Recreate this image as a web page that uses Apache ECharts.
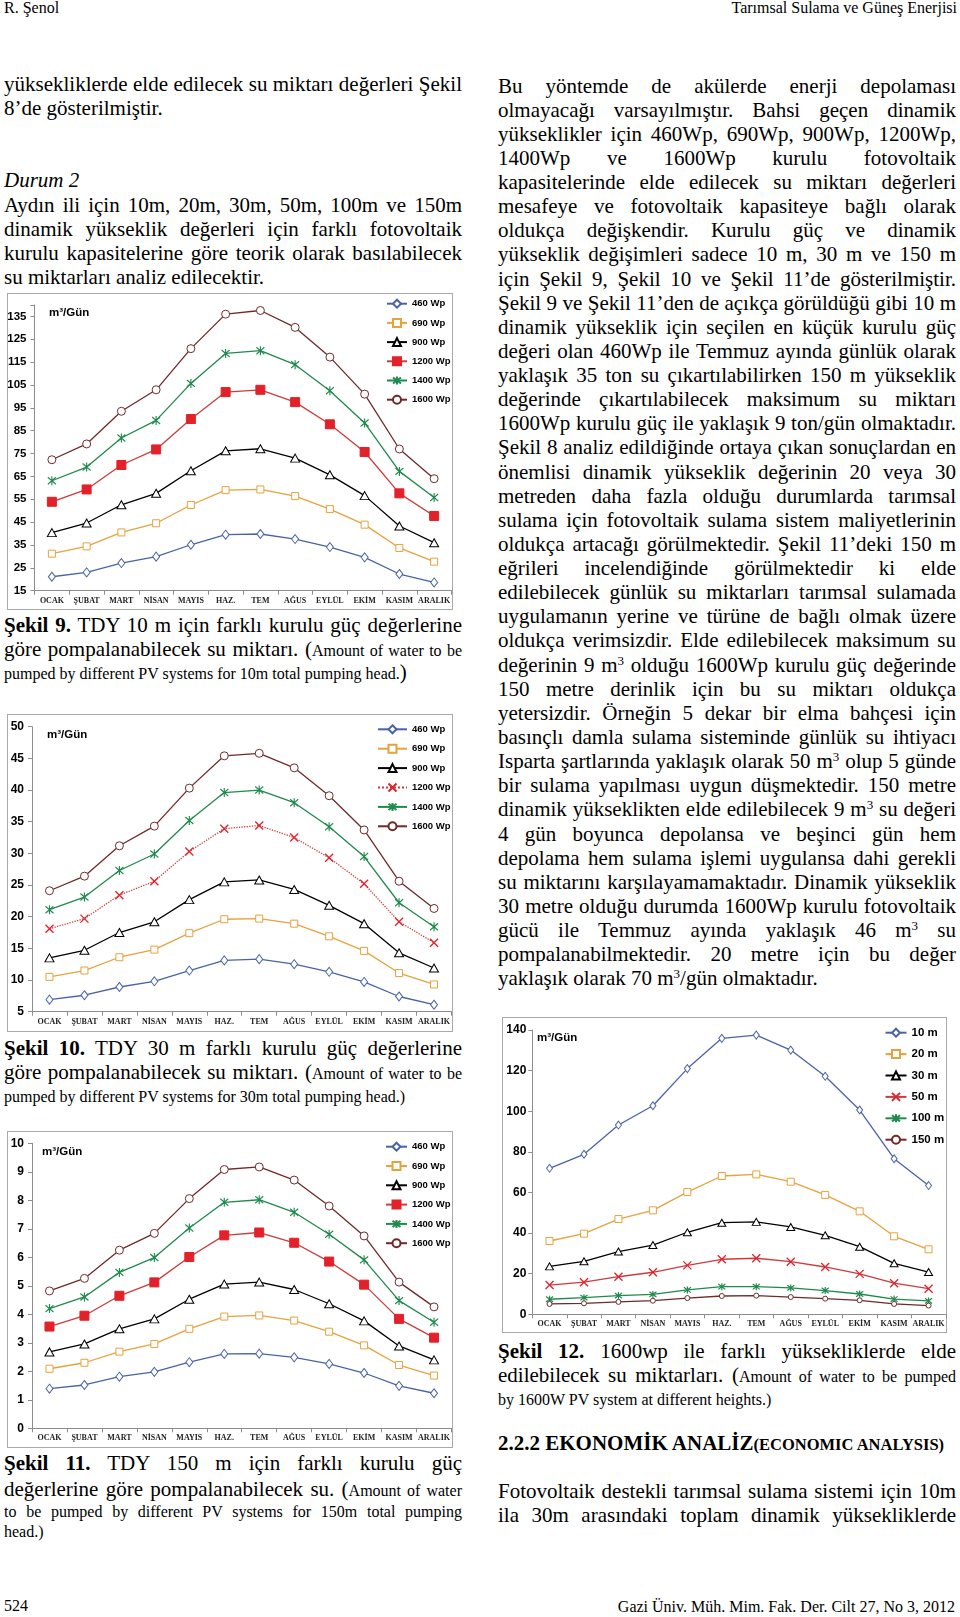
<!DOCTYPE html>
<html><head><meta charset="utf-8">
<script src="https://cdn.jsdelivr.net/npm/echarts@6/dist/echarts.min.js"></script>
<style>
html,body{margin:0;padding:0;background:#fff;}
#page{position:relative;width:960px;height:1617px;overflow:hidden;font-family:"Liberation Serif","Times New Roman",serif;color:#000;}
.t{position:absolute;line-height:24px;height:24px;font-size:21px;}
.j{text-align:justify;text-align-last:justify;}
.s{font-size:16px;}
sup{font-size:13px;line-height:0;vertical-align:7px;}
.box{position:absolute;border:1.5px solid #a9a9a9;box-sizing:border-box;}
.ch{position:absolute;}
</style></head>
<body><div id="page"></div>
<script>
// ---------------- DATA ----------------
const months = ['OCAK','ŞUBAT','MART','NİSAN','MAYIS','HAZ.','TEM','AĞUS','EYLÜL','EKİM','KASIM','ARALIK'];
const pvNames = ['460 Wp','690 Wp','900 Wp','1200 Wp','1400 Wp','1600 Wp'];
const headNames = ['10 m','20 m','30 m','50 m','100 m','150 m'];

// Şekil 9 – 10 m
const h10_460  = [21.1,23.0,27.1,29.9,35.1,39.5,39.8,37.6,34.1,29.6,22.3,18.6];
const h10_690  = [31.2,34.4,40.5,44.5,52.5,59.0,59.3,56.4,50.7,43.9,33.7,27.7];
const h10_900  = [40.4,44.6,52.6,57.6,67.5,76.2,77.1,73.0,65.7,56.6,43.3,36.0];
const h10_1200 = [53.9,59.3,70.0,76.8,90.1,101.9,102.9,97.5,87.8,75.7,57.6,47.7];
const h10_1400 = [63.1,69.1,81.8,89.5,105.7,118.8,120.0,113.9,102.5,88.4,67.2,55.8];
const h10_1600 = [72.3,79.2,93.5,102.9,120.9,136.0,137.6,130.2,117.2,101.0,77.0,64.0];
// Şekil 10 – 30 m
const h30_460  = [6.9,7.6,8.9,9.8,11.5,13.1,13.3,12.5,11.3,9.7,7.4,6.1];
const h30_690  = [10.5,11.5,13.6,14.8,17.4,19.6,19.7,18.9,16.9,14.6,11.1,9.3];
const h30_900  = [13.5,14.7,17.5,19.2,22.7,25.5,25.8,24.3,21.8,18.9,14.3,11.9];
const h30_1200 = [18.1,19.7,23.4,25.6,30.3,33.9,34.4,32.5,29.3,25.2,19.2,15.9];
const h30_1400 = [21.1,23.1,27.3,29.9,35.2,39.6,40.0,38.0,34.2,29.5,22.2,18.4];
const h30_1600 = [24.1,26.4,31.2,34.3,40.3,45.4,45.8,43.5,39.1,33.7,25.6,21.3];
// Şekil 11 – 150 m
const h150_460  = [1.39,1.52,1.81,1.98,2.32,2.61,2.62,2.49,2.26,1.94,1.49,1.23];
const h150_690  = [2.09,2.30,2.69,2.96,3.49,3.92,3.96,3.78,3.39,2.91,2.22,1.85];
const h150_900  = [2.68,2.96,3.49,3.84,4.53,5.06,5.13,4.87,4.37,3.77,2.89,2.40];
const h150_1200 = [3.57,3.95,4.65,5.12,6.01,6.77,6.87,6.51,5.85,5.04,3.84,3.18];
const h150_1400 = [4.20,4.61,5.47,5.99,7.03,7.93,8.02,7.58,6.81,5.91,4.48,3.72];
const h150_1600 = [4.82,5.26,6.25,6.84,8.06,9.08,9.17,8.71,7.80,6.75,5.13,4.26];
// Şekil 12 – 1600 Wp
const p1600_10  = [71.9,78.8,93.2,102.7,121.0,135.9,137.5,130.1,117.2,100.6,76.6,63.4];
const p1600_20  = [36.1,39.7,46.9,51.2,60.2,68.1,68.9,65.3,58.8,50.7,38.4,32.0];
const p1600_30  = [23.6,26.1,30.9,34.1,40.4,45.1,45.5,43.0,38.9,33.3,25.1,20.8];
const p1600_50  = [14.4,15.8,18.5,20.7,24.1,27.1,27.6,25.9,23.3,19.9,15.3,12.6];
const p1600_100 = [7.4,8.2,9.2,9.8,12.0,13.6,13.6,13.0,11.7,10.0,7.5,6.6];
const p1600_150 = [5.1,5.4,6.1,6.7,8.0,9.0,9.2,8.5,7.7,6.9,5.1,4.3];

// ---------------- TEXT ----------------
const page = document.getElementById('page');
function T(x, w, cy, html, just, fs, extra) {
  const d = document.createElement('div');
  d.className = 't' + (just ? ' j' : '');
  d.style.left = x + 'px'; d.style.width = w + 'px'; d.style.top = (cy - 12) + 'px';
  if (fs) d.style.fontSize = fs + 'px';
  if (extra) d.style.cssText += extra;
  d.innerHTML = html; page.appendChild(d);
}
const LX = 4, LW = 458, RX = 498, RW = 458;

T(4, 300, 7.5, 'R. Şenol', 0, 16);
T(560, 397, 7.5, 'Tarımsal Sulama ve Güneş Enerjisi', 0, 16, 'text-align:right;');
T(4, 100, 1606, '524', 0, 16);
T(500, 455, 1607, 'Gazi Üniv. Müh. Mim. Fak. Der. Cilt 27, No 3, 2012', 0, 16, 'text-align:right;');

const LP = 24.1;
T(LX, LW, 84, 'yüksekliklerde elde edilecek su miktarı değerleri Şekil', 1);
T(LX, LW, 84 + LP, '8’de gösterilmiştir.', 0);
T(LX, LW, 84 + 4*LP, '<i>Durum 2</i>', 0);
T(LX, LW, 84 + 5*LP, 'Aydın ili için 10m, 20m, 30m, 50m, 100m ve 150m', 1);
T(LX, LW, 84 + 6*LP, 'dinamik yükseklik değerleri için farklı fotovoltaik', 1);
T(LX, LW, 84 + 7*LP, 'kurulu kapasitelerine göre teorik olarak basılabilecek', 1);
T(LX, LW, 84 + 8*LP, 'su miktarları analiz edilecektir.', 0);

const rightLines = [
'Bu yöntemde de akülerde enerji depolaması',
'olmayacağı varsayılmıştır. Bahsi geçen dinamik',
'yükseklikler için 460Wp, 690Wp, 900Wp, 1200Wp,',
'1400Wp ve 1600Wp kurulu fotovoltaik',
'kapasitelerinde elde edilecek su miktarı değerleri',
'mesafeye ve fotovoltaik kapasiteye bağlı olarak',
'oldukça değişkendir. Kurulu güç ve dinamik',
'yükseklik değişimleri sadece 10 m, 30 m ve 150 m',
'için Şekil 9, Şekil 10 ve Şekil 11’de gösterilmiştir.',
'Şekil 9 ve Şekil 11’den de açıkça görüldüğü gibi 10 m',
'dinamik yükseklik için seçilen en küçük kurulu güç',
'değeri olan 460Wp ile Temmuz ayında günlük olarak',
'yaklaşık 35 ton su çıkartılabilirken 150 m yükseklik',
'değerinde çıkartılabilecek maksimum su miktarı',
'1600Wp kurulu güç ile yaklaşık 9 ton/gün olmaktadır.',
'Şekil 8 analiz edildiğinde ortaya çıkan sonuçlardan en',
'önemlisi dinamik yükseklik değerinin 20 veya 30',
'metreden daha fazla olduğu durumlarda tarımsal',
'sulama için fotovoltaik sulama sistem maliyetlerinin',
'oldukça artacağı görülmektedir. Şekil 11’deki 150 m',
'eğrileri incelendiğinde görülmektedir ki elde',
'edilebilecek günlük su miktarları tarımsal sulamada',
'uygulamanın yerine ve türüne de bağlı olmak üzere',
'oldukça verimsizdir. Elde edilebilecek maksimum su',
'değerinin 9 m<sup>3</sup> olduğu 1600Wp kurulu güç değerinde',
'150 metre derinlik için bu su miktarı oldukça',
'yetersizdir. Örneğin 5 dekar bir elma bahçesi için',
'basınçlı damla sulama sisteminde günlük su ihtiyacı',
'Isparta şartlarında yaklaşık olarak 50 m<sup>3</sup> olup 5 günde',
'bir sulama yapılması uygun düşmektedir. 150 metre',
'dinamik yükseklikten elde edilebilecek 9 m<sup>3</sup> su değeri',
'4 gün boyunca depolansa ve beşinci gün hem',
'depolama hem sulama işlemi uygulansa dahi gerekli',
'su miktarını karşılayamamaktadır. Dinamik yükseklik',
'30 metre olduğu durumda 1600Wp kurulu fotovoltaik',
'gücü ile Temmuz ayında yaklaşık 46 m<sup>3</sup> su',
'pompalanabilmektedir. 20 metre için bu değer',
'yaklaşık olarak 70 m<sup>3</sup>/gün olmaktadır.'
];
rightLines.forEach((h, i) => T(RX, RW, 85.5 + 24.13 * i, h, i < rightLines.length - 1));

// captions
T(LX, LW, 625, '<b>Şekil 9.</b> TDY 10 m için farklı kurulu güç değerlerine', 1);
T(LX, LW, 648.5, 'göre pompalanabilecek su miktarı. (<span class="s">Amount of water to be</span>', 1);
T(LX, LW, 672, '<span class="s">pumped by different PV systems for 10m total pumping head.</span>)', 0);

T(LX, LW, 1048, '<b>Şekil 10.</b> TDY 30 m farklı kurulu güç değerlerine', 1);
T(LX, LW, 1072, 'göre pompalanabilecek su miktarı. (<span class="s">Amount of water to be</span>', 1);
T(LX, LW, 1094.5, '<span class="s">pumped by different PV systems for 30m total pumping head.)</span>', 0);

T(LX, LW, 1463, '<b>Şekil 11.</b> TDY 150 m için farklı kurulu güç', 1);
T(LX, LW, 1488.5, 'değerlerine göre pompalanabilecek su. (<span class="s">Amount of water</span>', 1);
T(LX, LW, 1509.5, '<span class="s">to be pumped by different PV systems for 150m total pumping</span>', 1);
T(LX, LW, 1530, '<span class="s">head.)</span>', 0);

T(RX, RW, 1351, '<b>Şekil 12.</b> 1600wp ile farklı yüksekliklerde elde', 1);
T(RX, RW, 1374.5, 'edilebilecek su miktarları. (<span class="s">Amount of water to be pumped</span>', 1);
T(RX, RW, 1398, '<span class="s">by 1600W PV system at different heights.)</span>', 0);

T(RX, RW, 1442.5, '<b>2.2.2 EKONOMİK ANALİZ<span style="font-size:16.5px">(ECONOMIC ANALYSIS)</span></b>', 0);
T(RX, RW, 1490.5, 'Fotovoltaik destekli tarımsal sulama sistemi için 10m', 1);
T(RX, RW, 1515, 'ila 30m arasındaki toplam dinamik yüksekliklerde', 1);

// ---------------- CHARTS ----------------
const C_BLUE = '#4a63a8', C_ORANGE = '#e7a23e', C_RED = '#e3212a', C_REDLINE = '#cf3b3b',
      C_GREEN = '#1f8a4d', C_BROWN = '#6f2a2a';
const ASTER = 'path://M0,0L10,10M10,0L0,10M5,-1.5L5,11.5';
const CROSS = 'path://M0,0L10,10M10,0L0,10';

const st460  = {symbol:'diamond', size:[7,9], line:C_BLUE, fill:'#fff', stroke:C_BLUE};
const st690  = {symbol:'rect', size:7, line:C_ORANGE, fill:'#fff', stroke:C_ORANGE};
const st900  = {symbol:'triangle', size:[9,8], line:'#000', fill:'#fff', stroke:'#000'};
const st1200 = {symbol:'rect', size:9, line:C_REDLINE, fill:C_RED, stroke:C_RED};
const st1200d= {symbol:CROSS, size:8, line:C_REDLINE, fill:C_RED, stroke:C_RED, dash:'dotted', bw:1.3};
const st1400 = {symbol:ASTER, size:[8,9], line:C_GREEN, fill:C_GREEN, stroke:C_GREEN, bw:1.2};
const st1600 = {symbol:'circle', size:8, line:C_BROWN, fill:'#fff', stroke:C_BROWN};

function ser(name, data, st) {
  return {
    name, type:'line', data, symbol: st.symbol, symbolSize: st.size, showAllSymbol: true,
    lineStyle: {color: st.line, width: st.lw || 1.3, type: st.dash || 'solid'},
    itemStyle: {color: st.fill, borderColor: st.stroke, borderWidth: st.bw || 1},
    emphasis: {disabled: true}
  };
}

const EXTRA = 20; // chart canvas extends past the frame so legend text is not clipped
function makeChart(box, cfg) {
  const b = document.createElement('div');
  b.className = 'box';
  Object.assign(b.style, {left: box.x + 'px', top: box.y + 'px', width: box.w + 'px', height: box.h + 'px'});
  page.appendChild(b);
  const d = document.createElement('div');
  d.className = 'ch';
  Object.assign(d.style, {left: box.x + 'px', top: box.y + 'px', width: (box.w + EXTRA) + 'px', height: box.h + 'px'});
  page.appendChild(d);
  const ch = echarts.init(d, null, {renderer: 'canvas'});
  const axisCol = '#8c8c8c';
  const grid = Object.assign({containLabel: false, outerBoundsMode: 'none'}, cfg.grid);
  grid.right = cfg.grid.right + EXTRA;
  ch.setOption({
    animation: false,
    grid,
    xAxis: {
      type: 'category', data: months, boundaryGap: true,
      axisLine: {lineStyle: {color: axisCol, width: 1}},
      axisTick: {show: true, length: 4, lineStyle: {color: axisCol}},
      axisLabel: {interval: 0, margin: 6, fontFamily: '"Liberation Serif", serif', fontWeight: 'bold', fontSize: 8, color: '#222'},
      splitLine: {show: false}
    },
    yAxis: {
      type: 'value', min: cfg.min, max: cfg.max, interval: cfg.int,
      axisLine: {show: true, lineStyle: {color: axisCol, width: 1}},
      axisTick: {show: true, length: 4, lineStyle: {color: axisCol}},
      splitLine: {show: false},
      axisLabel: {
        margin: cfg.ymargin, fontFamily: '"Liberation Sans", Arial, sans-serif', fontWeight: 'bold',
        fontSize: cfg.yfs, color: '#000',
        formatter: v => (Math.abs(((v - cfg.min) / cfg.int) - Math.round((v - cfg.min) / cfg.int)) < 1e-6) ? String(v) : ''
      }
    },
    legend: {
      orient: 'vertical', left: cfg.leg.left, top: cfg.leg.top, padding: 0,
      itemWidth: cfg.leg.w, itemHeight: 10, itemGap: cfg.leg.gap,
      textStyle: {fontFamily: '"Liberation Sans", Arial, sans-serif', fontWeight: 'bold', fontSize: cfg.leg.fs, color: '#000', lineHeight: 10},
      data: cfg.series.map(s => s.name)
    },
    graphic: [{
      type: 'text', left: cfg.unit.left, top: cfg.unit.top, z: 100,
      style: {text: 'm³/Gün', font: 'bold ' + cfg.unit.fs + 'px "Liberation Sans", Arial, sans-serif', fill: '#000'}
    }],
    series: cfg.series
  });
}

makeChart({x:7, y:293, w:446, h:317}, {
  grid: {left:27.5, top:12, right:1.5, bottom:19.3},
  min:15, max:140, int:10, yfs:11.5, ymargin:8,
  leg: {left:379, top:5.7, w:20, gap:9.2, fs:9.5},
  unit: {left:42, top:14, fs:11.5},
  series: [ser(pvNames[0], h10_460, st460), ser(pvNames[1], h10_690, st690), ser(pvNames[2], h10_900, st900),
           ser(pvNames[3], h10_1200, st1200), ser(pvNames[4], h10_1400, st1400), ser(pvNames[5], h10_1600, st1600)]
});

makeChart({x:7, y:714, w:446, h:318}, {
  grid: {left:25, top:12.7, right:1.5, bottom:20.3},
  min:5, max:50, int:5, yfs:12, ymargin:8,
  leg: {left:370, top:10.3, w:29, gap:9.4, fs:9.5},
  unit: {left:40, top:15, fs:11.5},
  series: [ser(pvNames[0], h30_460, st460), ser(pvNames[1], h30_690, st690), ser(pvNames[2], h30_900, st900),
           ser(pvNames[3], h30_1200, st1200d), ser(pvNames[4], h30_1400, st1400), ser(pvNames[5], h30_1600, st1600)]
});

makeChart({x:7, y:1131, w:446, h:317}, {
  grid: {left:25, top:12.3, right:1.5, bottom:19.7},
  min:0, max:10, int:1, yfs:12, ymargin:8,
  leg: {left:378, top:10.7, w:21, gap:9.3, fs:9.5},
  unit: {left:35, top:15, fs:11.5},
  series: [ser(pvNames[0], h150_460, st460), ser(pvNames[1], h150_690, st690), ser(pvNames[2], h150_900, st900),
           ser(pvNames[3], h150_1200, st1200), ser(pvNames[4], h150_1400, st1400), ser(pvNames[5], h150_1600, st1600)]
});

const s10 = {symbol:'diamond', size:[6,8], line:C_BLUE, fill:'#fff', stroke:C_BLUE};
const s20 = {symbol:'rect', size:7, line:C_ORANGE, fill:'#fff', stroke:C_ORANGE};
const s30 = {symbol:'triangle', size:[8,7], line:'#000', fill:'#fff', stroke:'#000'};
const s50 = {symbol:CROSS, size:8, line:C_REDLINE, fill:C_RED, stroke:C_RED, bw:1.3};
const s100 = {symbol:ASTER, size:[7,7], line:C_GREEN, fill:C_GREEN, stroke:C_GREEN, bw:1.2};
const s150 = {symbol:'circle', size:5, line:C_BROWN, fill:'#fff', stroke:C_BROWN};

makeChart({x:502, y:1017, w:445, h:316}, {
  grid: {left:30.3, top:13, right:1.2, bottom:18.7},
  min:0, max:140, int:20, yfs:12, ymargin:6,
  leg: {left:382.5, top:9.7, w:21, gap:9.4, fs:11.5},
  unit: {left:35, top:14.5, fs:11.5},
  series: [ser(headNames[0], p1600_10, s10), ser(headNames[1], p1600_20, s20), ser(headNames[2], p1600_30, s30),
           ser(headNames[3], p1600_50, s50), ser(headNames[4], p1600_100, s100), ser(headNames[5], p1600_150, s150)]
});
</script>
</body></html>
